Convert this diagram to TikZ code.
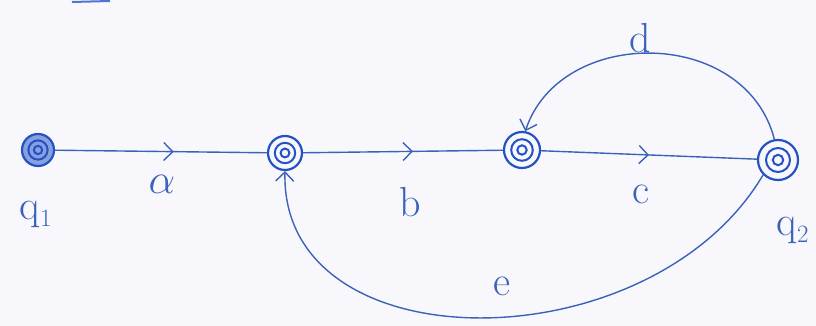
\documentclass[tikz,border=0pt]{standalone}
\usepackage{graphicx}
\usetikzlibrary{decorations.markings,arrows.meta}
\definecolor{ink}{HTML}{3A62B8}
\definecolor{inkdark}{HTML}{2452C4}
\definecolor{paper}{HTML}{F8F7FC}
\tikzset{
  state/.style={circle, draw=inkdark, line width=2.2pt, inner sep=0pt, minimum size=#1,
    path picture={
      \draw[inkdark, line width=2pt] (path picture bounding box.center) circle (0.3*#1);
      \draw[inkdark, line width=2pt] (path picture bounding box.center) circle (0.13*#1);
    }},
  edge/.style={ink, line width=1.4pt},
  midarrow/.style={postaction={decorate}, decoration={markings,
    mark=at position #1 with {\arrow[ink, line width=1.4pt]{Straight Barb[length=9pt, width=18pt]}}}},
  endarrow/.style={-{Straight Barb[length=9pt, width=18pt]}},
  lbl/.style={text=ink, font=\fontsize{42}{44}\selectfont},
}
\begin{document}
\begin{tikzpicture}[x=1pt,y=1pt]
\fill[paper] (0,0) rectangle (816,326);
\useasboundingbox (0,0) rectangle (816,326);
\draw[inkdark!80, line width=2pt] (72,324) -- (110,325);
\node[state=32pt, fill=inkdark!55] (q1) at (38,176) {};
\node[state=34pt] (n2) at (285,173) {};
\node[state=36pt] (n3) at (522,176) {};
\node[state=40pt] (q2) at (778,166) {};
\draw[edge, midarrow=0.56] (q1) -- (n2);
\draw[edge, midarrow=0.55] (n2) -- (n3);
\draw[edge, midarrow=0.5] (n3) -- (q2);
\draw[edge, endarrow] (q2.100) .. controls (745,300) and (560,300) .. (n3.80);
\draw[edge, endarrow] (q2.225) .. controls (650,-40) and (280,-40) .. (n2.270);
\node[lbl] (la) at (162,142) {\scalebox{1.7}{$\alpha$}};
\node[lbl] (lb) at (410,124) {b};
\node[lbl] (lc) at (641,132) {c};
\node[lbl] (ld) at (640,288) {d};
\node[lbl] (le) at (502,40) {e};
\node[lbl] (lq1) at (36,112) {q$_1$};
\node[lbl] (lq2) at (793,96) {q$_2$};
\end{tikzpicture}
\end{document}
